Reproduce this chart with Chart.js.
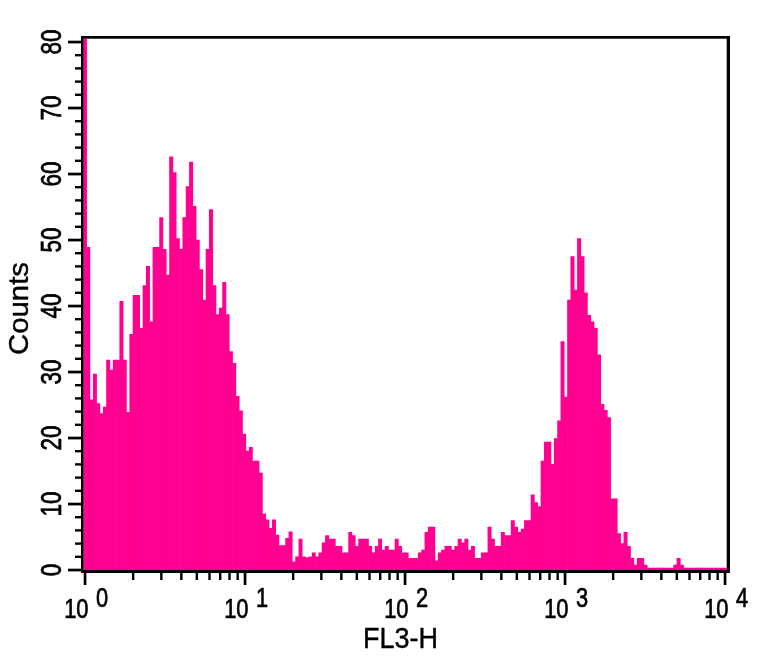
<!DOCTYPE html>
<html>
<head>
<meta charset="utf-8">
<title>FL3-H histogram</title>
<script src="https://cdn.jsdelivr.net/npm/chart.js@4.4.1/dist/chart.umd.min.js"></script>
<style>
  html, body { margin: 0; padding: 0; background: #fff; }
  canvas { display: block; }
</style>
</head>
<body>
<canvas id="histo" width="764" height="658"></canvas>
<script>
// --- Data ---
// one value per channel, about 48 channels per decade, channel 0 sits on 10^0
const binCounts = [
	88, 48.9, 25.8, 29.7, 25.2, 23.7, 24.7, 31.8, 30.3, 31.8,
	31.8, 40.7, 31.8, 23.9, 35.7, 41.6, 41.6, 36.6, 43.1, 46,
	37.6, 48.9, 48.9, 53.4, 48.6, 44.7, 62.6, 60.2, 50.2, 48.6,
	53.4, 58.1, 61.8, 55.1, 50, 45.5, 40.9, 48.6, 54.6, 43.1,
	38.7, 39.7, 43.6, 38.7, 33.1, 31.3, 26.3, 24.1, 20.6, 18.0,
	18.6, 16.5, 16.5, 14.7, 8.5, 7.6, 6.3, 7.6, 5.3, 3.7,
	3.7, 4.8, 5.8, 1.25, 2.0, 4.7, 2.0, 1.9, 2.0, 2.6,
	2.0, 2.6, 4.1, 5.2, 4.7, 4.7, 3.6, 3.6, 2.6, 2.6,
	5.7, 5.2, 3.6, 4.7, 4.7, 4.7, 3.6, 2.6, 3.6, 4.7,
	3.0, 3.6, 3.0, 3.0, 4.7, 3.6, 2.6, 2.6, 1.75, 1.75,
	1.75, 2.6, 3.0, 5.7, 6.5, 6.5, 1.4, 2.6, 3.0, 3.6,
	3.6, 3.0, 3.6, 4.7, 4.1, 4.7, 3.0, 3.6, 1.75, 1.75,
	2.6, 2.6, 6.5, 4.7, 3.6, 3.6, 5.7, 5.2, 5.2, 7.5,
	6.5, 5.7, 6.2, 7.5, 7.5, 11.4, 10.2, 9.6, 16.5, 19.4,
	19.4, 16.0, 19.9, 22.6, 34.6, 26.2, 40.9, 47.5, 42.4, 50.2,
	47.5, 42.0, 38.6, 37.6, 36.6, 32.6, 25.1, 24.2, 23.1, 10.8,
	10.8, 5.5, 4.0, 5.7, 3.6, 1.75, 0.75, 1.75, 1.75, 0.75,
	0.3, 0.3, 0.3, 0.3, 0.3, 0.3, 0.3, 0.3, 0.75, 1.75,
	0.75, 0.3, 0.3, 0.3, 0.3, 0.3, 0.3, 0.3, 0.3, 0.3,
	0.3, 0.3, 0.3, 0.3
];
const channelLabels = binCounts.map((v, i) => String(i));
const decadeExponents = [0, 1, 2, 3, 4];          // x tick labels 10^n
const countTicks = [0, 10, 20, 30, 40, 50, 60, 70, 80];
const xTitle = 'FL3-H';
const yTitle = 'Counts';

const pink = '#ff0090';

// text a bit heavier, like the bitmap font of the original
function heavyText(ctx, txt, x, y) {
	ctx.fillText(txt, x, y);
	ctx.strokeText(txt, x, y);
}

// --- Axes, ticks and labels drawn on top of the bars ---
const facsAxes = {
	id: 'facsAxes',
	afterDraw(chart) {
		const ctx = chart.ctx;
		const a = chart.chartArea;
		const ys = chart.scales.y;
		const xs = chart.scales.xDec;
		ctx.save();
		ctx.fillStyle = '#000';
		ctx.strokeStyle = '#000';
		ctx.lineWidth = 0.7;

		// frame: heavy left/bottom axes, lighter top/right
		ctx.fillRect(a.left - 2.3, a.top - 2.7, 2.5, a.bottom - a.top + 5.7);
		ctx.fillRect(a.left - 2.3, a.bottom, a.right - a.left + 5.6, 3);
		ctx.fillRect(a.left - 2.3, a.top - 2.7, a.right - a.left + 5.6, 2.7);
		ctx.fillRect(a.right, a.top - 2.7, 3.3, a.bottom - a.top + 5.7);

		// y ticks every 2 counts, long ones every 10
		for (let v = 0; v <= 80; v += 2) {
			const py = ys.getPixelForValue(v);
			if (v % 10 === 0) ctx.fillRect(a.left - 15.3, py - 1.3, 13.5, 2.7);
			else ctx.fillRect(a.left - 8.3, py - 1.2, 6.5, 2.4);
		}
		// x ticks: decades plus 2..9 inside each decade
		decadeExponents.forEach(d => {
			const px = xs.getPixelForValue(d);
			ctx.fillRect(px - 1.3, a.bottom + 3, 2.7, 12);
			if (d < 4) {
				for (let m = 2; m <= 9; m++) {
					const pm = xs.getPixelForValue(d + Math.log10(m));
					ctx.fillRect(pm - 1.2, a.bottom + 3, 2.4, 7);
				}
			}
		});

		// y tick labels, rotated
		ctx.font = '30px "Liberation Sans", Arial, sans-serif';
		ctx.textAlign = 'center';
		ctx.textBaseline = 'alphabetic';
		countTicks.forEach(v => {
			const py = ys.getPixelForValue(v);
			ctx.save();
			ctx.translate(61, py);
			ctx.rotate(-Math.PI / 2);
			ctx.scale(0.75, 1);
			heavyText(ctx, String(v), 0, 0);
			ctx.restore();
		});

		// x tick labels 10^n
		ctx.font = '28px "Liberation Sans", Arial, sans-serif';
		decadeExponents.forEach(d => {
			const px = xs.getPixelForValue(d);
			ctx.save();
			ctx.translate(px + 3.5, 618.3);
			ctx.scale(0.78, 1);
			ctx.textAlign = 'right';
			heavyText(ctx, '10', 0, 0);
			ctx.restore();
			ctx.save();
			ctx.translate(px + 11, 606.7);
			ctx.scale(0.78, 1);
			ctx.textAlign = 'left';
			heavyText(ctx, String(d), 0, 0);
			ctx.restore();
		});

		// axis titles
		ctx.lineWidth = 0.4;
		ctx.font = '30px "Liberation Sans", Arial, sans-serif';
		ctx.textAlign = 'center';
		let w = ctx.measureText(xTitle).width;
		ctx.save();
		ctx.translate(400.5, 648.3);
		ctx.scale(75 / w, 1);
		heavyText(ctx, xTitle, 0, 0);
		ctx.restore();

		ctx.font = '28px "Liberation Sans", Arial, sans-serif';
		w = ctx.measureText(yTitle).width;
		ctx.save();
		ctx.translate(28, 308.5);
		ctx.rotate(-Math.PI / 2);
		ctx.scale(93 / w, 1);
		heavyText(ctx, yTitle, 0, 0);
		ctx.restore();

		ctx.restore();
	}
};

// --- Chart ---
const left = 83.3, right = 726.7;          // plot edges in px
// decade axis: 10^0 sits 1.7px inside the left edge, 160px per decade
const decMin = -1.7 / 160;
const decMax = (right - left - 1.7) / 160;

const ctxH = document.getElementById('histo').getContext('2d');
window.histoChart = new Chart(ctxH, {
	type: 'bar',
	data: {
		labels: channelLabels,
		datasets: [{
			label: 'Counts',
			data: binCounts,
			backgroundColor: pink,
			borderWidth: 0,
			barPercentage: 1,
			categoryPercentage: 1
		}]
	},
	options: {
		responsive: false,
		animation: false,
		events: [],
		layout: { padding: { left: left, right: 764 - right, top: 38.7, bottom: 88 } },
		plugins: {
			legend: { display: false },
			tooltip: { enabled: false },
			title: { display: false }
		},
		scales: {
			x: { type: 'category', display: false, offset: true },
			xDec: {
				type: 'linear', axis: 'x', position: 'bottom', display: false,
				offset: false, grace: 0, bounds: 'data',
				min: decMin, max: decMax
			},
			y: { type: 'linear', display: false, min: 0, max: 80.5 }
		}
	},
	plugins: [facsAxes]
});
</script>
</body>
</html>
